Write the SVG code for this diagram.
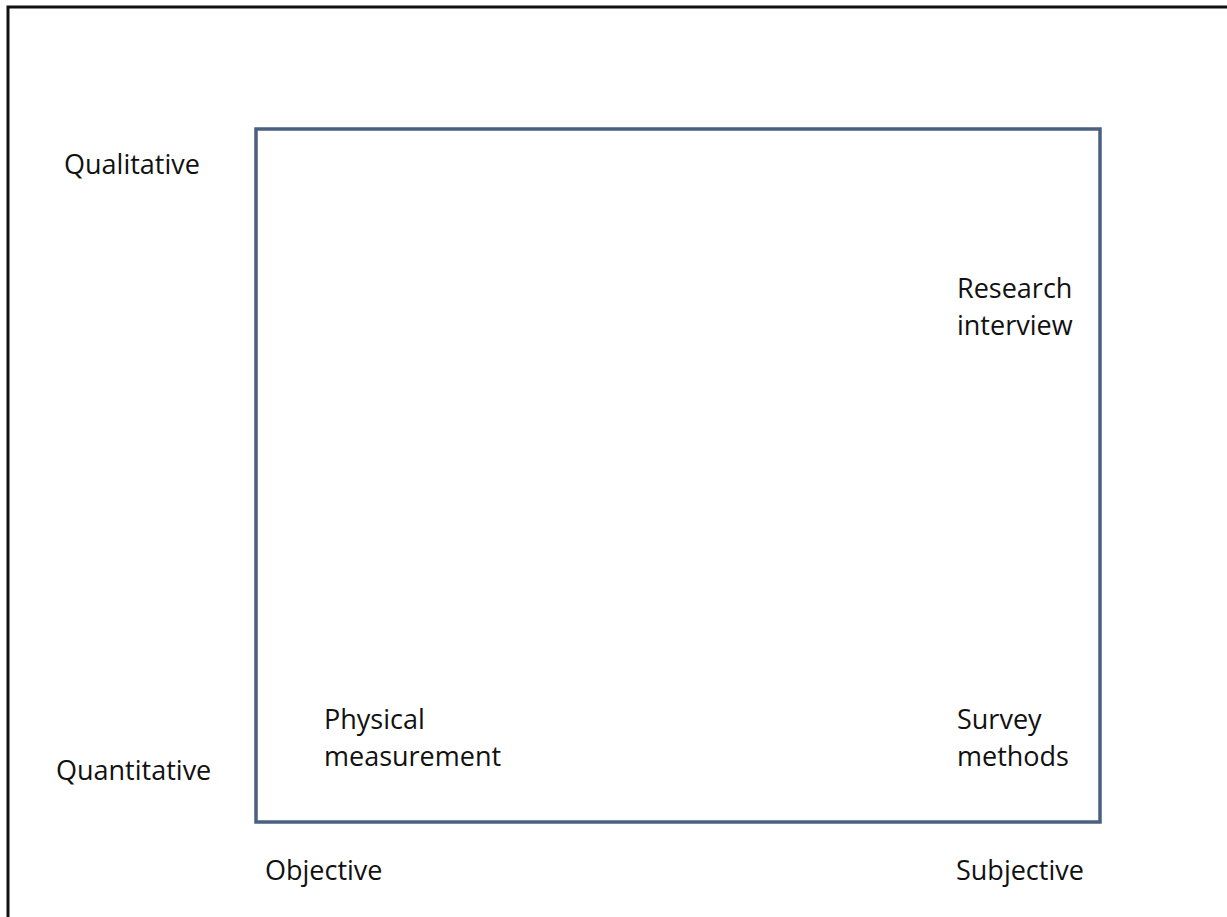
<svg xmlns="http://www.w3.org/2000/svg" width="1227" height="917" viewBox="0 0 1227 917">
<style>
text{font-family:"Open Sans","Liberation Sans",sans-serif;font-size:27px;fill:#111}
</style>
<rect width="1227" height="917" fill="#fff"/>
<path d="M8,917 V7 H1227" fill="none" stroke="#111" stroke-width="3"/>
<g id="quadrant">
<rect x="256" y="129" width="844" height="693" fill="none" stroke="#4a6080" stroke-width="3.5"/>
</g>
<g id="axis-labels">
<text x="64" y="174">Qualitative</text>
<text x="56" y="780">Quantitative</text>
<text x="265" y="880">Objective</text>
<text x="956" y="880">Subjective</text>
</g>
<g id="research-interview"><text x="957" y="298">Research</text><text x="957" y="335">interview</text></g>
<g id="physical-measurement"><text x="324" y="729">Physical</text><text x="324" y="766">measurement</text></g>
<g id="survey-methods"><text x="957" y="729">Survey</text><text x="957" y="766">methods</text></g>
</svg>
